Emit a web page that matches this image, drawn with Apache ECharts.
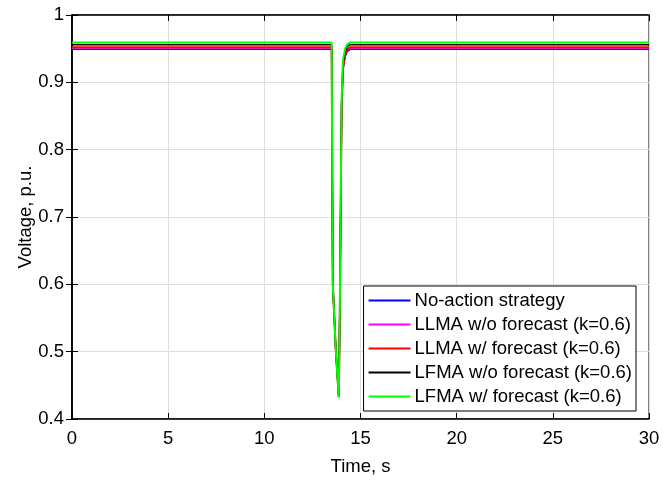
<!DOCTYPE html>
<html>
<head>
<meta charset="utf-8">
<script src="https://cdn.jsdelivr.net/npm/echarts@6/dist/echarts.min.js"></script>
<style>
  html, body { margin: 0; padding: 0; background: #fff; }
  #chart { width: 672px; height: 481px; }
</style>
</head>
<body>
<div id="chart"></div>
<script>
// 时间轴 (s)
var time = [0, 13.5, 13.56, 13.72, 13.87, 13.9, 13.93, 13.98, 14.02, 14.09, 14.2, 14.3, 14.45, 30];
// 各策略电压 (p.u.)
var noAction = [0.949, 0.949, 0.60, 0.50, 0.434, 0.50, 0.57, 0.74, 0.860, 0.918, 0.938, 0.945, 0.949, 0.949];
var llmaNoFc = [0.951, 0.951, 0.60, 0.50, 0.434, 0.50, 0.57, 0.74, 0.862, 0.920, 0.940, 0.947, 0.951, 0.951];
var llmaFc = [0.952, 0.952, 0.60, 0.50, 0.433, 0.50, 0.57, 0.74, 0.864, 0.922, 0.942, 0.949, 0.952, 0.952];
var lfmaNoFc = [0.956, 0.956, 0.60, 0.50, 0.433, 0.50, 0.58, 0.75, 0.870, 0.928, 0.946, 0.953, 0.956, 0.956];
var lfmaFc = [0.959, 0.959, 0.60, 0.50, 0.432, 0.50, 0.58, 0.75, 0.874, 0.933, 0.950, 0.956, 0.959, 0.959];

var names = ['No-action strategy', 'LLMA w/o forecast (k=0.6)', 'LLMA w/ forecast (k=0.6)',
    'LFMA w/o forecast (k=0.6)', 'LFMA w/ forecast (k=0.6)'];
var colors = ['#0000ff', '#ff00ff', '#ff0000', '#000000', '#00ff00'];
var values = [noAction, llmaNoFc, llmaFc, lfmaNoFc, lfmaFc];
var widths = [1.5, 1.5, 2, 1.5, 2];

var font = 'Liberation Sans, Arial, sans-serif';
var fs = 18.5;

function pairs(v) {
    return time.map(function(t, i) { return [t, v[i]]; });
}

var series = names.map(function(n, i) {
    return {
        name: n,
        type: 'line',
        data: pairs(values[i]),
        showSymbol: false,
        symbol: 'none',
        color: colors[i],
        lineStyle: { width: widths[i], color: colors[i] },
        animation: false
    };
});

var chart = echarts.init(document.getElementById('chart'));
chart.setOption({
    animation: false,
    textStyle: { fontFamily: font, color: '#000' },
    grid: { left: 72, right: 23, top: 15, bottom: 59, show: true, borderColor: '#000', borderWidth: 1 },
    legend: {
        data: names,
        orient: 'vertical',
        right: 36,
        bottom: 70,
        icon: 'rect',
        itemWidth: 42,
        itemHeight: 2,
        itemGap: 5,
        padding: [5, 4, 5, 5],
        backgroundColor: '#fff',
        borderColor: '#000',
        borderWidth: 1,
        textStyle: { fontFamily: font, fontSize: fs, color: '#000', padding: [0, 0, 0, -1] }
    },
    xAxis: [{
        type: 'value',
        min: 0, max: 30, interval: 5,
        name: 'Time, s',
        nameLocation: 'middle',
        nameGap: 38,
        nameTextStyle: { fontFamily: font, fontSize: fs, color: '#000' },
        axisLine: { show: true, lineStyle: { color: '#000', width: 1.5 } },
        axisTick: { show: true, inside: true, length: 6, lineStyle: { color: '#000' } },
        axisLabel: { fontFamily: font, fontSize: fs, color: '#000', margin: 10 },
        splitLine: { show: true, lineStyle: { color: '#dedede', width: 1 } }
    }, {
        type: 'value',
        position: 'top',
        min: 0, max: 30, interval: 5,
        axisLine: { show: true, lineStyle: { color: '#000', width: 1.5 } },
        axisTick: { show: true, inside: true, length: 6, lineStyle: { color: '#000' } },
        axisLabel: { show: false },
        splitLine: { show: false }
    }],
    yAxis: [{
        type: 'value',
        min: 0.4, max: 1, interval: 0.1,
        name: 'Voltage, p.u.',
        nameLocation: 'middle',
        nameGap: 37,
        nameMoveOverlap: false,
        nameTextStyle: { fontFamily: font, fontSize: fs, color: '#000' },
        axisLine: { show: true, lineStyle: { color: '#000', width: 1.5 } },
        axisTick: { show: true, inside: true, length: 6, lineStyle: { color: '#000' } },
        axisLabel: {
            fontFamily: font, fontSize: fs, color: '#000', margin: 8,
            formatter: function(v) { return String(parseFloat(v.toFixed(1))); }
        },
        splitLine: { show: true, lineStyle: { color: '#dedede', width: 1 } }
    }, {
        type: 'value',
        position: 'right',
        min: 0.4, max: 1, interval: 0.1,
        axisLine: { show: true, lineStyle: { color: '#000', width: 1.5 } },
        axisTick: { show: true, inside: true, length: 6, lineStyle: { color: '#000' } },
        axisLabel: { show: false },
        splitLine: { show: false }
    }],
    series: series
});
</script>
</body>
</html>
